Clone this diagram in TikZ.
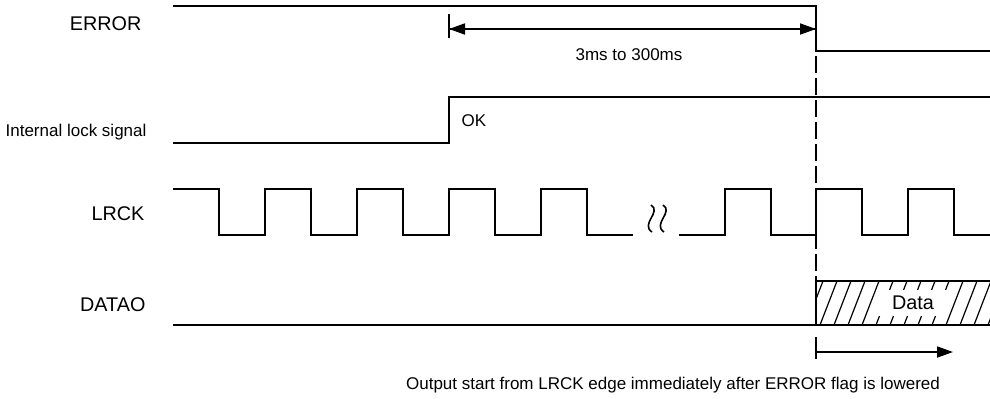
\documentclass[tikz,border=0pt]{standalone}
\usepackage{fontspec}
\setmainfont{Liberation Sans}
\usepackage{tikz}
\usetikzlibrary{arrows.meta}

\begin{document}
\begin{tikzpicture}[x=0.5pt, y=-0.5pt, line width=0.9pt,
  sig/.style={line join=miter},
  bigtxt/.style={font=\fontsize{9.9}{11}\selectfont},
  smalltxt/.style={font=\fontsize{8.5}{10}\selectfont},
  dimarrow/.style={-{Triangle[length=8pt,width=5.5pt]}},
  hatch/.style={line width=0.6pt}]

% Area del disegno
\useasboundingbox (0,0) rectangle (990,398);

% Livelli dei segnali
\def\xs{173}
\def\xe{990}

% Nomi dei segnali
\node[bigtxt, anchor=east] (lblerr) at (149,24) {ERROR};
\node[smalltxt, anchor=east] (lbllock) at (154,132) {Internal lock signal};
\node[bigtxt, anchor=east] (lbllrck) at (152,214) {LRCK};
\node[bigtxt, anchor=east] (lbldatao) at (153,305) {DATAO};

% ERROR
\draw[sig] (\xs,6) -- (816,6) -- (816,51) -- (\xe,51);

% Internal lock signal
\draw[sig] (\xs,143) -- (449,143) -- (449,97) -- (\xe,97);
\node[smalltxt, anchor=west] (tok) at (454,121) {OK};

% LRCK (prima parte)
\draw[sig] (\xs,189) -- (219,189) -- (219,235)
  \foreach \x in {265,357,449,541} {-- (\x,235) -- (\x,189) -- (\x+46,189) -- (\x+46,235)}
  -- (633,235);

% interruzione
\draw[line width=0.8pt] (651,205) .. controls (662,212) and (640,224) .. (652,232);
\draw[line width=0.8pt] (663,205) .. controls (674,212) and (652,224) .. (664,232);

% LRCK (seconda parte)
\draw[sig] (679,235) -- (725,235) -- (725,189) -- (771,189) -- (771,235)
  \foreach \x in {816,908} {-- (\x,235) -- (\x,189) -- (\x+46,189) -- (\x+46,235)}
  -- (\xe,235);

% DATAO
\draw (\xs,325) -- (\xe,325);
\begin{scope}
  \clip (816,281) rectangle (\xe,325);
  \foreach \x in {806,820,...,1000}
    \draw[hatch] (\x,325) -- (\x+17,281);
\end{scope}
\node[bigtxt, fill=white, inner xsep=7pt, inner ysep=3pt] (tdata) at (913,303) {Data};
\draw[sig] (816,325) -- (816,281) -- (\xe,281);

% Linea tratteggiata
\draw[line width=0.7pt, dash pattern=on 8.5pt off 2.5pt] (816,56) -- (816,281);

% Intervallo 3ms - 300ms
\coordinate (lockup) at (449,29);
\coordinate (errdown) at (816,29);
\draw (449,14) -- (449,38);
\draw[dimarrow] (lockup) -- (errdown);
\draw[dimarrow] (errdown) -- (lockup);
\node[smalltxt] (ttime) at (629,55) {3ms to 300ms};

% Inizio uscita
\coordinate (outstart) at (816,352);
\coordinate (outend) at (953,352);
\draw (816,337) -- (816,359);
\draw[dimarrow] (outstart) -- (outend);
\node[smalltxt] (tnote) at (673,385) {Output start from LRCK edge immediately after ERROR flag is lowered};

\end{tikzpicture}
\end{document}
